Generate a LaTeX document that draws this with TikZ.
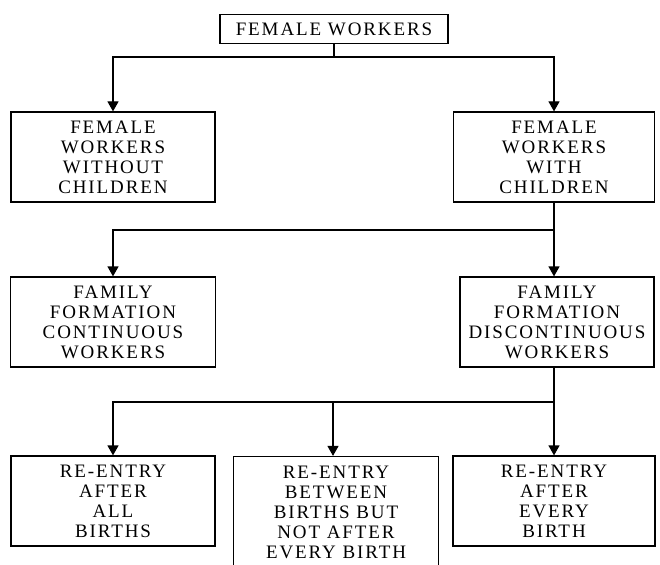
\documentclass[tikz,border=0pt]{standalone}
\usepackage{fontspec}
\setmainfont{Liberation Serif}
\newfontfamily\boxfont{Liberation Serif}[LetterSpace=10]
\usetikzlibrary{arrows.meta}

\tikzset{
    box/.style={draw, line width=1.2pt, align=center, inner sep=0pt,
        font=\boxfont\fontsize{19}{20}\selectfont, minimum height=90pt},
    link/.style={line width=1.2pt},
    arr/.style={link, -{Triangle[length=10pt,width=11pt]}}
}

\begin{document}
\begin{tikzpicture}[x=1pt, y=-1pt]
    \useasboundingbox (0,0) rectangle (660,564);
    %\draw[help lines] (0,0) grid[step=20] (660,564);
    \node[box, minimum width=228pt, minimum height=29pt] (fw) at (334,29) {FEMALE WORKERS};
    \node[box, minimum width=204pt] (fwo) at (113,157) {FEMALE\\WORKERS\\WITHOUT\\CHILDREN};
    \node[box, minimum width=201pt] (fwi) at (554,157) {FEMALE\\WORKERS\\WITH\\CHILDREN};
    \node[box, minimum width=205pt] (ffc) at (113,322) {FAMILY\\FORMATION\\CONTINUOUS\\WORKERS};
    \node[box, minimum width=194pt] (ffd) at (557,322) {FAMILY\\FORMATION\\DISCONTINUOUS\\WORKERS};
    \node[box, minimum width=204pt] (rall) at (113,501) {RE-ENTRY\\AFTER\\ALL\\BIRTHS};
    \node[box, minimum width=205pt, minimum height=111pt] (rbtw) at (336,512) {RE-ENTRY\\BETWEEN\\BIRTHS BUT\\NOT AFTER\\EVERY BIRTH}; % en bas, coupé
    \node[box, minimum width=202pt] (revy) at (554,501) {RE-ENTRY\\AFTER\\EVERY\\BIRTH};
    % lignes de liaison
    \coordinate (b1) at (334,57);
    \coordinate (b2) at (554,230);
    \coordinate (b3) at (554,402);
    \draw[link] (fw) -- (b1);
    \draw[arr] (b1) -| (fwo);
    \draw[arr] (b1) -| (fwi);
    \draw[link] (fwi) -- (b2);
    \draw[arr] (b2) -| (ffc);
    \draw[arr] (b2) -- (b2 |- ffd.north);
    \draw[link] (ffd.south -| b3) -- (b3);
    \draw[arr] (b3) -| (rall);
    \draw[arr] (b3) -| ([xshift=-3pt]rbtw.north);
    \draw[arr] (b3) -- (b3 |- revy.north);
\end{tikzpicture}
\end{document}
